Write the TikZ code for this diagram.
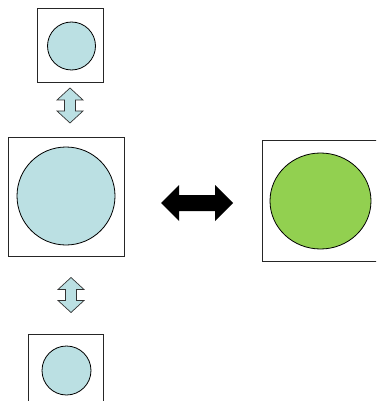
\documentclass[tikz,border=0pt]{standalone}
\usepackage{tikz}
\usetikzlibrary{shapes.geometric}

\definecolor{paleblue}{HTML}{BBE0E3}
\definecolor{leafgreen}{HTML}{92D050}

\tikzset{
    frame/.style={draw=black!85, line width=0.8pt, rectangle, inner sep=0pt},
    ball/.style={draw=black, line width=0.8pt, circle, fill=paleblue, inner sep=0pt},
    updown/.pic={
        \draw[draw=black!80, line width=0.7pt, fill=paleblue, line join=miter]
            (0,-17.5) -- (13,-5.5) -- (5.5,-5.5) -- (5.5,5.5) -- (13,5.5) -- (0,17.5)
            -- (-13,5.5) -- (-5.5,5.5) -- (-5.5,-5.5) -- (-13,-5.5) -- cycle;
    },
    leftright/.pic={
        \fill[black]
            (-36,0) -- (-18,-18) -- (-18,-8) -- (18,-8) -- (18,-18) -- (36,0)
            -- (18,18) -- (18,8) -- (-18,8) -- (-18,18) -- cycle;
    }
}

\begin{document}
\begin{tikzpicture}[x=1pt,y=-1pt]

        \clip (0,0) rectangle (376,401);

        % small one on top
        \node[frame, minimum width=66pt, minimum height=74pt] (topbox) at (70,45) {};
        \node[ball, minimum size=48pt] (topball) at (71.5,46) {};
        \pic (uparrow) at (70,105.5) {updown};

        % big one in the middle
        \node[frame, minimum width=116pt, minimum height=119pt] (midbox) at (66,196.5) {};
        \node[ball, minimum size=98pt] (midball) at (66,196) {};

        % the swap
        \pic (sidearrow) at (197,203) {leftright};
        \node[frame, minimum width=124pt, minimum height=121pt] (rightbox) at (324,200.5) {};
        \node[draw=black, line width=0.8pt, ellipse, fill=leafgreen, inner sep=0pt,
            minimum width=101pt, minimum height=96pt] (rightball) at (320.5,201) {};

        % small one below
        \pic (downarrow) at (71,295) {updown};
        \node[frame, minimum width=75pt, minimum height=90pt] (lowbox) at (65.5,379) {};
        \node[ball, minimum size=49pt] (lowball) at (66.5,370.5) {};

    \end{tikzpicture}
\end{document}
